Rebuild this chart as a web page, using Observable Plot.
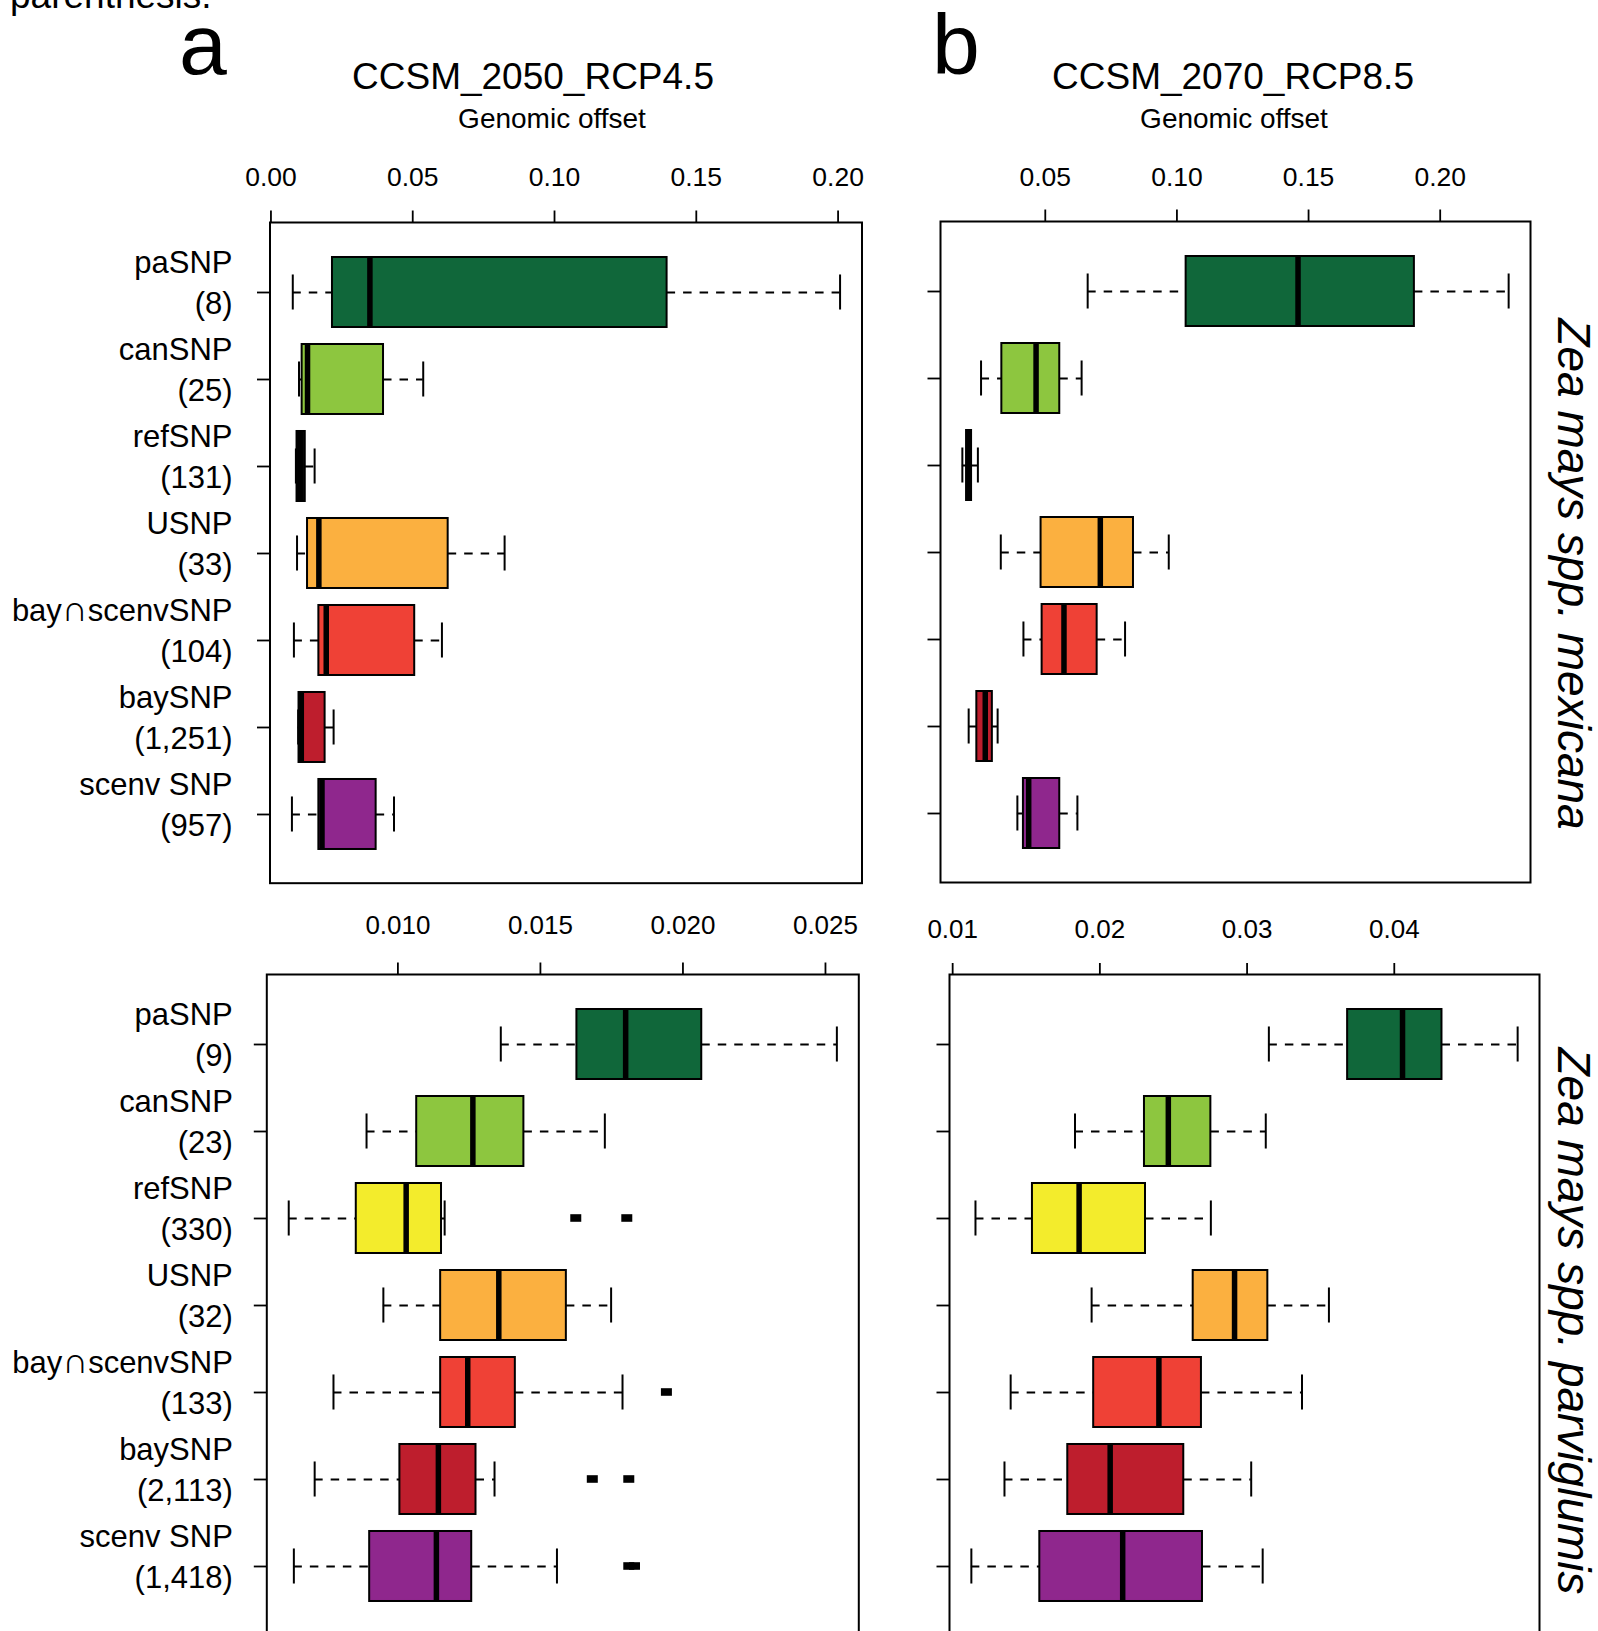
<!DOCTYPE html>
<html>
<head>
<meta charset="utf-8">
<script src="https://cdn.jsdelivr.net/npm/d3@7"></script>
<script src="https://cdn.jsdelivr.net/npm/@observablehq/plot@0.6"></script>
<style>
html, body { margin: 0; padding: 0; background: #fff; overflow: hidden; }
#page { position: relative; width: 1598px; height: 1631px; overflow: hidden;
  font-family: "Liberation Sans", Arial, Helvetica, sans-serif; color: #000; background: #fff; }
.txt { position: absolute; white-space: nowrap; line-height: 1; }
.panel { position: absolute; }
</style>
</head>
<body>
<div id="page"></div>
<script>
// ---------------- data ----------------
const categories = ["paSNP", "canSNP", "refSNP", "USNP", "bay∩scenvSNP", "baySNP", "scenv SNP"];
const countsMexicana = ["8", "25", "131", "33", "104", "1,251", "957"];
const countsParviglumis = ["9", "23", "330", "32", "133", "2,113", "1,418"];
const colorsMexicana = ["#10673a", "#8dc63f", "#0a0a0a", "#fbb040", "#ef4136", "#be1e2d", "#8f278d"];
const colorsParviglumis = ["#10673a", "#8dc63f", "#f3ec2c", "#fbb040", "#ef4136", "#be1e2d", "#8f278d"];

// five-number summaries per category: [lower whisker, Q1, median, Q3, upper whisker]
const mexicana2050 = [
  [0.0077, 0.0217, 0.0349, 0.1397, 0.2007],
  [0.0099, 0.0110, 0.0129, 0.0397, 0.0537],
  [0.0088, 0.0092, 0.0103, 0.0121, 0.0154],
  [0.0092, 0.0129, 0.0169, 0.0625, 0.0824],
  [0.0081, 0.0169, 0.0195, 0.0507, 0.0603],
  [0.0096, 0.0099, 0.0107, 0.0191, 0.0221],
  [0.0074, 0.0169, 0.0180, 0.0371, 0.0434]
];
const mexicana2070 = [
  [0.0661, 0.1035, 0.1460, 0.1902, 0.2260],
  [0.0256, 0.0335, 0.0465, 0.0555, 0.0638],
  [0.0185, 0.0201, 0.0209, 0.0220, 0.0244],
  [0.0331, 0.0484, 0.0709, 0.0835, 0.0969],
  [0.0417, 0.0488, 0.0571, 0.0697, 0.0803],
  [0.0209, 0.0240, 0.0272, 0.0299, 0.0319],
  [0.0394, 0.0417, 0.0437, 0.0555, 0.0622]
];
const parviglumis2050 = [
  [0.01361, 0.01628, 0.01799, 0.02066, 0.02540],
  [0.00890, 0.01066, 0.01263, 0.01442, 0.01726],
  [0.00617, 0.00854, 0.01029, 0.01153, 0.01164],
  [0.00949, 0.01150, 0.01354, 0.01591, 0.01748],
  [0.00774, 0.01150, 0.01245, 0.01412, 0.01788],
  [0.00708, 0.01007, 0.01142, 0.01274, 0.01339],
  [0.00635, 0.00901, 0.01135, 0.01259, 0.01558]
];
const parviglumis2050OutlierCats = ["refSNP", "refSNP", "bay∩scenvSNP", "baySNP", "baySNP", "scenv SNP", "scenv SNP"];
const parviglumis2050OutlierVals = [0.01624, 0.01803, 0.01942, 0.01682, 0.01810, 0.01810, 0.01830];
const parviglumis2070 = [
  [0.03148, 0.03683, 0.04056, 0.04324, 0.04838],
  [0.01831, 0.02303, 0.02465, 0.02754, 0.03127],
  [0.01155, 0.01542, 0.01859, 0.02310, 0.02754],
  [0.01944, 0.02634, 0.02915, 0.03141, 0.03556],
  [0.01394, 0.01958, 0.02401, 0.02690, 0.03373],
  [0.01352, 0.01782, 0.02070, 0.02570, 0.03028],
  [0.01127, 0.01592, 0.02155, 0.02697, 0.03106]
];

const ticksA = [0, 0.05, 0.10, 0.15, 0.20];
const ticksB = [0.05, 0.10, 0.15, 0.20];
const ticksC = [0.010, 0.015, 0.020, 0.025];
const ticksD = [0.01, 0.02, 0.03, 0.04];

// ---------------- layout ----------------
const page = document.getElementById("page");
const FONT = '"Liberation Sans", Arial, Helvetica, sans-serif';

function addText(str, {x, baseline, size, anchor = "middle", italic = false}) {
  const d = document.createElement("div");
  d.className = "txt";
  d.textContent = str;
  d.style.fontSize = size + "px";
  if (italic) d.style.fontStyle = "italic";
  d.style.top = (baseline - 0.8465 * size) + "px";
  d.style.left = x + "px";
  if (anchor === "middle") d.style.transform = "translateX(-50%)";
  page.appendChild(d);
}
function addRotated(str, {cx, cy, size, italic = false}) {
  const d = document.createElement("div");
  d.className = "txt";
  d.textContent = str;
  d.style.fontSize = size + "px";
  if (italic) d.style.fontStyle = "italic";
  d.style.left = cx + "px";
  d.style.top = (cy - 0.5 * size) + "px";
  d.style.transformOrigin = "0 50%";
  d.style.transform = "rotate(90deg) translateX(-50%)";
  page.appendChild(d);
}

// render the ∩ symbol larger, as tall as the capitals around it
function styleCap(svg) {
  svg.querySelectorAll("text, tspan").forEach(el => {
    if (el.children.length) return;
    const s = el.textContent;
    const k = s.indexOf("∩");
    if (k < 0) return;
    el.textContent = "";
    el.appendChild(document.createTextNode(s.slice(0, k)));
    const t = document.createElementNS("http://www.w3.org/2000/svg", "tspan");
    t.setAttribute("font-family", "DejaVu Sans");
    t.setAttribute("font-size", "36");
    t.setAttribute("font-weight", "200");
    t.textContent = "∩";
    el.appendChild(t);
    el.appendChild(document.createTextNode(s.slice(k + 1)));
  });
}

function makePanel({stats, outCats = [], outVals = [], counts, colors, frame, ML, tickVals, fmt,
                    xTickSize, xTickPad, xFont, yTickPad, showLabels}) {
  const MT = 80, MR = 10, MB = 10;
  const rows = categories.map((c, i) => ({
    cat: c, lo: stats[i][0], q1: stats[i][1], med: stats[i][2], q3: stats[i][3], hi: stats[i][4],
    color: colors[i]
  }));
  const outliers = outCats.map((c, i) => ({cat: c, value: outVals[i]}));
  const allVals = rows.flatMap(r => [r.lo, r.hi]).concat(outVals);
  const lo = d3.min(allVals), hi = d3.max(allVals), r = hi - lo;
  const domain = [lo - 0.04 * r, hi + 0.04 * r];

  const step = frame.h / (categories.length - 0.2 + 2 * 0.38);
  const bw = step * 0.8;
  const capInset = bw * 0.25;
  const outInset = (bw - 7.5) / 2;

  const marks = [
    Plot.axisX({anchor: "top", ticks: tickVals, tickFormat: fmt, tickSize: xTickSize,
      tickPadding: xTickPad, fontSize: xFont, strokeWidth: 1.8, label: null}),
    Plot.axisY({anchor: "left", tickSize: 12.5, strokeWidth: 1.8, label: null, tickFormat: () => ""})
  ];
  if (showLabels) {
    marks.push(Plot.axisY({anchor: "left", tickSize: 0, tickPadding: 12.5 + yTickPad,
      fontSize: 31, lineHeight: 1.3, dy: -12, label: null,
      tickFormat: d => d + "\n(" + counts[categories.indexOf(d)] + ")"}));
  }
  marks.push(
    Plot.ruleY(rows, {y: "cat", x1: "lo", x2: "q1", stroke: "#000", strokeWidth: 2, strokeDasharray: "8.5,8"}),
    Plot.ruleY(rows, {y: "cat", x1: "q3", x2: "hi", stroke: "#000", strokeWidth: 2, strokeDasharray: "8.5,8"}),
    Plot.tickX(rows, {x: "lo", y: "cat", insetTop: capInset, insetBottom: capInset, stroke: "#000", strokeWidth: 2}),
    Plot.tickX(rows, {x: "hi", y: "cat", insetTop: capInset, insetBottom: capInset, stroke: "#000", strokeWidth: 2}),
    Plot.barX(rows, {y: "cat", x1: "q1", x2: "q3", fill: "color", stroke: "#000", strokeWidth: 2}),
    Plot.tickX(rows, {x: "med", y: "cat", stroke: "#000", strokeWidth: 5.5}),
    Plot.tickX(outliers, {x: "value", y: "cat", insetTop: outInset, insetBottom: outInset, stroke: "#000", strokeWidth: 11}),
    Plot.frame({stroke: "#000", strokeWidth: 2})
  );

  const chart = Plot.plot({
    width: ML + frame.w + MR,
    height: MT + frame.h + MB,
    marginLeft: ML, marginRight: MR, marginTop: MT, marginBottom: MB,
    style: {fontFamily: FONT, color: "#000", background: "transparent", overflow: "visible"},
    color: {type: "identity"},
    x: {domain},
    y: {type: "band", domain: categories, paddingInner: 0.2, paddingOuter: 0.38},
    marks
  });
  styleCap(chart);
  const wrap = document.createElement("div");
  wrap.className = "panel";
  wrap.style.left = (frame.x - ML) + "px";
  wrap.style.top = (frame.y - MT) + "px";
  wrap.appendChild(chart);
  page.appendChild(wrap);
}

// caption tail (cut off at top of the figure)
addText("parenthesis.", {x: 10, baseline: 8, size: 37, anchor: "start"});

// panel letters and titles
addText("a", {x: 179, baseline: 73.5, size: 86, anchor: "start"});
addText("b", {x: 932, baseline: 73.5, size: 86, anchor: "start"});
addText("CCSM_2050_RCP4.5", {x: 533, baseline: 89.5, size: 37});
addText("Genomic offset", {x: 552, baseline: 129, size: 28});
addText("CCSM_2070_RCP8.5", {x: 1233, baseline: 89.5, size: 37});
addText("Genomic offset", {x: 1234, baseline: 129, size: 28});

const f2 = d3.format(".2f"), f3 = d3.format(".3f");

makePanel({stats: mexicana2050, counts: countsMexicana, colors: colorsMexicana,
  frame: {x: 269.5, y: 221.6, w: 592, h: 660.7},
  ML: 269.5, tickVals: ticksA, fmt: f2, xTickSize: 12.5, xTickPad: 23.5, xFont: 26.5, yTickPad: 25, showLabels: true});
makePanel({stats: mexicana2070, counts: countsMexicana, colors: colorsMexicana,
  frame: {x: 939.5, y: 220.6, w: 590, h: 661},
  ML: 60, tickVals: ticksB, fmt: f2, xTickSize: 12.5, xTickPad: 23.5, xFont: 26.5, yTickPad: 25, showLabels: false});
makePanel({stats: parviglumis2050, outCats: parviglumis2050OutlierCats, outVals: parviglumis2050OutlierVals,
  counts: countsParviglumis, colors: colorsParviglumis, frame: {x: 266.3, y: 973.8, w: 592, h: 660.6},
  ML: 266.3, tickVals: ticksC, fmt: f3, xTickSize: 12.5, xTickPad: 28, xFont: 26, yTickPad: 21.5, showLabels: true});
makePanel({stats: parviglumis2070, counts: countsParviglumis, colors: colorsParviglumis,
  frame: {x: 948.8, y: 973.8, w: 590, h: 660.6},
  ML: 60, tickVals: ticksD, fmt: f2, xTickSize: 12, xTickPad: 24.5, xFont: 26, yTickPad: 25, showLabels: false});

// species labels on the right
addRotated("Zea mays spp. mexicana", {cx: 1574, cy: 574, size: 46, italic: true});
addRotated("Zea mays spp. parviglumis", {cx: 1574, cy: 1321, size: 46, italic: true});
</script>
</body>
</html>
